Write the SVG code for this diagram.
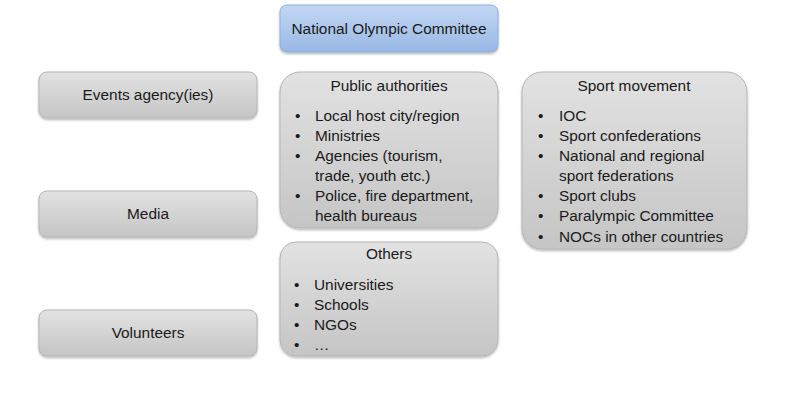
<svg xmlns="http://www.w3.org/2000/svg" width="801" height="403" viewBox="0 0 801 403">
<defs>
<linearGradient id="gGray" x1="0" y1="0" x2="0" y2="1">
<stop offset="0" stop-color="#e2e2e2"/>
<stop offset="1" stop-color="#c5c5c5"/>
</linearGradient>
<linearGradient id="gBlue" x1="0" y1="0" x2="0" y2="1">
<stop offset="0" stop-color="#c3d7f3"/>
<stop offset="1" stop-color="#98b8e5"/>
</linearGradient>
<filter id="sh" x="-10%" y="-10%" width="120%" height="130%">
<feDropShadow dx="0" dy="1.5" stdDeviation="1.2" flood-color="#000" flood-opacity="0.3"/>
</filter>
</defs>
<style>
.box{fill:url(#gGray);stroke:#b5b5b5;stroke-width:1;filter:url(#sh)}
.blue{fill:url(#gBlue);stroke:#8eaedc;stroke-width:1;filter:url(#sh)}
text{font-family:"Liberation Sans",Arial,sans-serif;font-size:15.4px;fill:#1a1a1a}
.c{text-anchor:middle}
</style>
<rect width="801" height="403" fill="#ffffff"/>
<g id="noc">
<rect class="blue" x="280" y="5" width="218" height="47" rx="7"/>
<text class="c" x="389" y="34">National Olympic Committee</text>
</g>
<g id="events">
<rect class="box" x="39" y="72" width="218" height="46" rx="8"/>
<text class="c" x="148" y="100">Events agency(ies)</text>
</g>
<g id="media">
<rect class="box" x="39" y="191" width="218" height="46" rx="8"/>
<text class="c" x="148" y="219">Media</text>
</g>
<g id="volunteers">
<rect class="box" x="39" y="310" width="218" height="46" rx="8"/>
<text class="c" x="148" y="338">Volunteers</text>
</g>
<g id="public">
<rect class="box" x="280" y="72" width="218" height="156" rx="20"/>
<text class="c" x="389" y="91">Public authorities</text>
<text x="295" y="121">•</text><text x="315" y="121">Local host city/region</text>
<text x="295" y="141">•</text><text x="315" y="141">Ministries</text>
<text x="295" y="161">•</text><text x="315" y="161">Agencies (tourism,</text>
<text x="315" y="181">trade, youth etc.)</text>
<text x="295" y="201">•</text><text x="315" y="201">Police, fire department,</text>
<text x="315" y="221">health bureaus</text>
</g>
<g id="others">
<rect class="box" x="280" y="242" width="218" height="114" rx="16"/>
<text class="c" x="389" y="259">Others</text>
<text x="294" y="290">•</text><text x="314" y="290">Universities</text>
<text x="294" y="310">•</text><text x="314" y="310">Schools</text>
<text x="294" y="330">•</text><text x="314" y="330">NGOs</text>
<text x="294" y="350">•</text><text x="314" y="350">…</text>
</g>
<g id="sport">
<rect class="box" x="522" y="72" width="225" height="177" rx="20"/>
<text class="c" x="634" y="91">Sport movement</text>
<text x="538" y="121">•</text><text x="559" y="121">IOC</text>
<text x="538" y="141">•</text><text x="559" y="141">Sport confederations</text>
<text x="538" y="161">•</text><text x="559" y="161">National and regional</text>
<text x="559" y="181">sport federations</text>
<text x="538" y="201">•</text><text x="559" y="201">Sport clubs</text>
<text x="538" y="221">•</text><text x="559" y="221">Paralympic Committee</text>
<text x="538" y="242">•</text><text x="559" y="242">NOCs in other countries</text>
</g>
<g id="connectors"/>
</svg>
